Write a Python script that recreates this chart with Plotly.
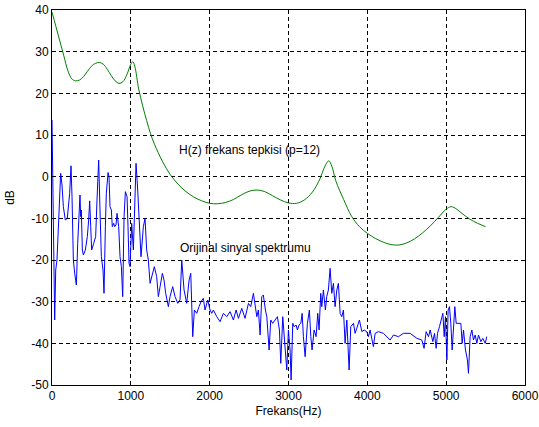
import plotly.graph_objects as go

# H(z) LPC envelope (p=12): frequency (Hz), level (dB)
env_freq = [0, 50, 100, 150, 200, 250, 300, 350, 400, 450, 500, 550, 600, 650, 700, 750,
            800, 850, 900, 950, 1000, 1025, 1050, 1100, 1150, 1200, 1250, 1300, 1400, 1500,
            1600, 1700, 1800, 1900, 2000, 2100, 2200, 2300, 2400, 2500, 2600, 2700, 2800,
            2900, 3000, 3100, 3200, 3300, 3400, 3450, 3510, 3550, 3600, 3700, 3800, 3900,
            4000, 4100, 4200, 4300, 4400, 4500, 4600, 4700, 4800, 4900, 5000, 5060, 5100,
            5200, 5300, 5400, 5500]
env_db = [39.5, 36, 32.5, 29, 25.5, 23.5, 23, 23.2, 24, 25.3, 26.5, 27.2, 27.4, 27, 25.8, 24.3,
          23, 22.4, 22.8, 24.5, 27, 27.6, 26.5, 21, 17, 13.5, 10.3, 7.8, 3.7, 0.5,
          -1.8, -3.6, -4.9, -5.8, -6.4, -6.5, -6.2, -5.5, -4.4, -3.5, -3.2, -3.6, -4.6,
          -5.6, -6.3, -6.4, -5.6, -3.8, -0.5, 2, 3.8, 2.5, -1, -5.5, -9.5, -12,
          -13.6, -14.8, -15.7, -16.3, -16.4, -15.9, -14.9, -13.5, -11.8, -9.8, -7.8, -7.2, -7.4,
          -8.8, -10.2, -11.2, -12]

# Original signal spectrum: frequency (Hz), level (dB)
spec_freq = [0, 9, 17, 34, 47, 63, 85, 110, 127, 144, 169, 194, 224, 241, 254, 271, 288, 309,
             326, 343, 355, 364, 372, 385, 398, 423, 448, 465, 478, 491, 503, 529, 554, 571,
             592, 609, 626, 647, 660, 677, 689, 711, 723, 736, 753, 765, 783, 795, 812, 825,
             846, 863, 880, 897, 914, 931, 952, 964, 977, 990, 1011, 1032, 1049, 1066, 1087,
             1104, 1129, 1159, 1180, 1201, 1222, 1244, 1265, 1298, 1328, 1349, 1371, 1400,
             1421, 1442, 1476, 1497, 1531, 1561, 1595, 1624, 1646, 1675, 1709, 1739, 1760,
             1772, 1785, 1806, 1836, 1865, 1891, 1920, 1941, 1976, 2005, 2026, 2047, 2090,
             2132, 2174, 2217, 2259, 2301, 2335, 2365, 2407, 2449, 2492, 2521, 2555, 2576,
             2598, 2618, 2640, 2661, 2681, 2707, 2725, 2754, 2775, 2800, 2830, 2859, 2885,
             2902, 2927, 2957, 2978, 2999, 3020, 3033, 3054, 3071, 3096, 3113, 3134, 3156,
             3173, 3189, 3211, 3240, 3265, 3283, 3299, 3325, 3350, 3371, 3388, 3409, 3422,
             3443, 3468, 3485, 3506, 3528, 3549, 3570, 3591, 3613, 3633, 3655, 3676, 3697,
             3718, 3740, 3769, 3790, 3824, 3845, 3875, 3900, 3930, 3959, 3993, 4014, 4035,
             4077, 4099, 4141, 4204, 4247, 4289, 4331, 4395, 4458, 4543, 4628, 4691, 4720,
             4746, 4776, 4797, 4831, 4852, 4873, 4890, 4915, 4937, 4958, 4975, 4991, 5009,
             5025, 5042, 5059, 5076, 5092, 5110, 5127, 5156, 5186, 5203, 5220, 5245, 5270,
             5283, 5304, 5326, 5346, 5368, 5389, 5410, 5440, 5465, 5495, 5516]
spec_db = [13.6, 1.6, -21.6, -34.4, -22.4, -20, -10.4, 0.8, -2, -7.2, -10.4, -10, -4, 2.6, -4.8,
           -20, -23.2, -26, -16, -8, -4.4, -9.6, -8, -17.6, -18.8, -17.6, -14.4, -10.4, -5.8,
           -12, -17.6, -16, -14.4, -5.6, 4, -8, -19.2, -22.4, -28, -12, -4, 1, 0, -7.2, -8,
           -12, -11.2, -12, -11.6, -8.8, -12, -19.2, -21.6, -28.8, -9.6, -3.6, -4.8, -12,
           -20.8, -21.6, -11.2, -17.6, -5.6, 3.2, -3.2, -9.6, -19.2, -12, -10, -17.6, -20,
           -25.6, -24, -21.6, -24, -28.8, -26.4, -23.2, -24.8, -28, -31.2, -28.8, -26.4,
           -28.8, -30.4, -29.6, -20, -27.2, -30.4, -24.8, -23.2, -31.2, -38.4, -32, -32.8,
           -31.2, -30, -29.2, -32, -29.6, -32, -32.8, -32, -33.6, -34.8, -32.8, -33.6, -32.4,
           -34.4, -32, -34, -31.6, -34, -30.4, -31.2, -28, -31.2, -33.6, -32, -38, -28.8,
           -28.4, -32, -33.6, -41.6, -34.4, -35.2, -34.4, -33.6, -36.8, -44.8, -33.6, -41.6,
           -46.4, -36.8, -41.6, -48.8, -35.2, -36, -35.6, -36.8, -35.6, -35.2, -32.8, -38.4,
           -43.2, -35.2, -32, -38.4, -41.6, -36.8, -38.4, -32.8, -36.8, -28, -31.2, -27.2,
           -32, -28.8, -27.2, -22, -28, -25.6, -31.2, -27.2, -25.6, -32.8, -33.6, -32, -40,
           -34.4, -46.4, -36, -35.2, -37.6, -36, -34.4, -37.2, -36.8, -37.2, -38.4, -36.8,
           -40.8, -37.6, -37.2, -37.6, -38.4, -39.2, -38, -38.4, -37.6, -37.6, -38.8, -39.2,
           -41.2, -37.2, -38.4, -36.8, -39.6, -37.6, -41.2, -37.6, -36, -34.4, -32.8, -38.4,
           -33.6, -44, -32, -31.2, -35.2, -41.6, -36.8, -31.2, -35.2, -35.2, -35.2, -40,
           -36.8, -41.6, -44, -47.2, -38.4, -36.8, -39.2, -38, -40, -38, -39.6, -38.8, -40,
           -38.4]

x_ticks = [0, 1000, 2000, 3000, 4000, 5000, 6000]
y_ticks = [-50, -40, -30, -20, -10, 0, 10, 20, 30, 40]

FONT = "Liberation Sans, Arial, sans-serif"

fig = go.Figure()
fig.add_trace(go.Scatter(x=spec_freq, y=spec_db, mode="lines",
                         line=dict(color="#0000ff", width=1), showlegend=False))
fig.add_trace(go.Scatter(x=env_freq, y=env_db, mode="lines", line_shape="spline",
                         line=dict(color="#008000", width=1), showlegend=False))

fig.add_annotation(x=1582, y=6.4, text="H(z) frekans tepkisi (p=12)", showarrow=False,
                   xanchor="left", yanchor="middle", font=dict(family=FONT, size=12, color="black"))
fig.add_annotation(x=1603, y=-17.2, text="Orijinal sinyal spektrumu", showarrow=False,
                   xanchor="left", yanchor="middle", font=dict(family=FONT, size=12, color="black"))

axis_common = dict(showline=True, linecolor="black", linewidth=1, mirror="ticks",
                   ticks="inside", ticklen=4, tickcolor="black",
                   showgrid=True, gridcolor="black", gridwidth=1, griddash="4px,3px",
                   zeroline=False, automargin=False, ticklabeloverflow="allow",
                   tickfont=dict(family=FONT, size=12, color="black"))

fig.update_xaxes(range=[0, 6000], tickvals=x_ticks, ticktext=[str(v) for v in x_ticks],
                 title=dict(text="Frekans(Hz)", font=dict(family=FONT, size=12, color="black"),
                            standoff=4), **axis_common)
fig.update_yaxes(range=[-50, 40], tickvals=y_ticks, ticktext=[str(v) for v in y_ticks],
                 title=dict(text="dB", font=dict(family=FONT, size=12, color="black"),
                            standoff=14), **axis_common)

fig.update_layout(width=539, height=427, margin=dict(l=52, r=14, t=10, b=42),
                  plot_bgcolor="white", paper_bgcolor="white",
                  font=dict(family=FONT, size=12, color="black"))

fig.write_html("out.html")
